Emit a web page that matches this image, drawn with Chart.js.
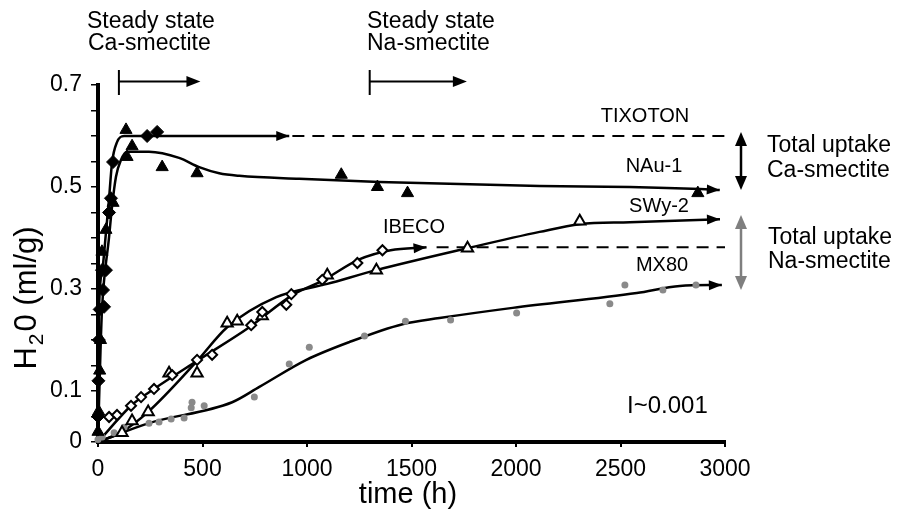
<!DOCTYPE html>
<html><head><meta charset="utf-8">
<script src="https://cdn.jsdelivr.net/npm/chart.js@4/dist/chart.umd.min.js"></script>
<style>html,body{margin:0;padding:0;background:#fff;}canvas{display:block;}</style>
</head><body>
<canvas id="c" width="902" height="510"></canvas>
<script>
// ---------------- data ----------------
const X_TICK_LABELS = ['0','500','1000','1500','2000','2500','3000'];
const Y_TICK_LABELS = ['0','0.1','0.3','0.5','0.7'];

// TIXOTON (filled diamonds)
const TIXOTON_T = [0, 2, 4, 8, 19, 24, 29, 38, 53, 62, 72, 235, 283];
const TIXOTON_Y = [0.05, 0.12, 0.2, 0.26, 0.337, 0.298, 0.265, 0.337, 0.45, 0.478, 0.549, 0.6, 0.608];
const TIXOTON_FIT_T = [0, 2, 5, 20, 38, 53, 67, 91, 125, 200, 915];
const TIXOTON_FIT_Y = [0, 0.12, 0.26, 0.335, 0.41, 0.478, 0.547, 0.588, 0.6, 0.6, 0.6];
const TIXOTON_STEADY_T = [930, 3000];
const TIXOTON_STEADY_Y = [0.6, 0.6];

// NAu-1 (filled triangles)
const NAU1_T = [0, 3, 8, 12, 19, 38, 72, 134, 139, 163, 307, 474, 1164, 1337, 1481, 2870];
const NAU1_Y = [0.02, 0.06, 0.14, 0.2, 0.373, 0.416, 0.469, 0.612, 0.559, 0.58, 0.539, 0.527, 0.524, 0.5, 0.488, 0.488];
const NAU1_FIT_T = [0, 5, 12, 19, 53, 67, 86, 110, 139, 244, 388, 484, 580, 676, 963, 1347, 2113, 2545, 2880, 2975];
const NAU1_FIT_Y = [0, 0.08, 0.18, 0.259, 0.402, 0.461, 0.52, 0.553, 0.569, 0.569, 0.557, 0.539, 0.527, 0.522, 0.516, 0.51, 0.502, 0.5, 0.496, 0.494];

// IBECO (open diamonds)
const IBECO_T = [53, 91, 158, 206, 268, 355, 474, 546, 733, 786, 901, 925, 1073, 1241, 1361];
const IBECO_Y = [0.049, 0.053, 0.071, 0.088, 0.104, 0.131, 0.161, 0.171, 0.229, 0.255, 0.269, 0.29, 0.318, 0.351, 0.376];
const IBECO_FIT_T = [0, 163, 268, 474, 724, 930, 1073, 1250, 1400, 1572];
const IBECO_FIT_Y = [0, 0.073, 0.104, 0.159, 0.225, 0.288, 0.316, 0.358, 0.376, 0.382];
const IBECO_STEADY_T = [1620, 3000];
const IBECO_STEADY_Y = [0.382, 0.382];

// SWy-2 (open triangles)
const SWY2_T = [115, 163, 240, 340, 474, 618, 666, 786, 1097, 1332, 1768, 2305];
const SWY2_Y = [0.018, 0.041, 0.059, 0.135, 0.135, 0.233, 0.237, 0.247, 0.327, 0.337, 0.38, 0.433];
const SWY2_FIT_T = [0, 115, 240, 470, 618, 853, 1097, 1332, 1768, 2113, 2305, 2545, 2976];
const SWY2_FIT_Y = [0, 0.02, 0.059, 0.157, 0.225, 0.284, 0.31, 0.337, 0.38, 0.412, 0.427, 0.431, 0.437];

// MX80 (grey dots)
const MX80_T = [0, 20, 77, 125, 244, 292, 350, 412, 446, 450, 508, 748, 915, 1011, 1275, 1471, 1687, 2003, 2449, 2521, 2703, 2861];
const MX80_Y = [0.005, 0.01, 0.018, 0.029, 0.037, 0.039, 0.045, 0.047, 0.067, 0.078, 0.071, 0.088, 0.153, 0.186, 0.208, 0.237, 0.239, 0.253, 0.271, 0.308, 0.298, 0.308];
const MX80_FIT_T = [0, 244, 642, 772, 997, 1203, 1457, 1634, 1984, 2578, 2784, 2985];
const MX80_FIT_Y = [0, 0.037, 0.078, 0.108, 0.161, 0.196, 0.231, 0.243, 0.263, 0.292, 0.306, 0.308];

// steady-state onset arrows (time, h)
const STEADY_CA_T = [100, 490];
const STEADY_NA_T = [1300, 1765];

// ---------------- helpers ----------------
const FONT = '"Liberation Sans", Arial, Helvetica, sans-serif';
const pts = (t, y) => t.map((v, i) => ({x: v, y: y[i]}));

function fitLine(t, y, extra) {
  return Object.assign({
    data: pts(t, y), showLine: true, borderColor: '#000', borderWidth: 2.5,
    pointRadius: 0, fill: false, tension: 0.4, cubicInterpolationMode: 'monotone',
    clip: false, order: 2
  }, extra || {});
}
function marks(t, y, style, radius, bg, border, bw) {
  return {
    data: pts(t, y), showLine: false, pointStyle: style, pointRadius: radius,
    backgroundColor: bg, borderColor: border, borderWidth: bw, clip: false, order: 1
  };
}
function head(ctx, x0, y0, x1, y1, len, half, color) {
  const a = Math.atan2(y1 - y0, x1 - x0);
  const bx = x1 - len * Math.cos(a), by = y1 - len * Math.sin(a);
  ctx.save();
  ctx.fillStyle = color;
  ctx.beginPath();
  ctx.moveTo(x1, y1);
  ctx.lineTo(bx + half * Math.sin(a), by - half * Math.cos(a));
  ctx.lineTo(bx - half * Math.sin(a), by + half * Math.cos(a));
  ctx.closePath();
  ctx.fill();
  ctx.restore();
}

const annot = {
  id: 'annot',
  afterDatasetsDraw(chart) {
    const ctx = chart.ctx;
    chart.data.datasets.forEach((ds, i) => {
      if (!ds.arrow) return;
      const d = chart.getDatasetMeta(i).data, n = d.length;
      head(ctx, d[n - 2].x, d[n - 2].y, d[n - 1].x, d[n - 1].y, 13, 5, '#000');
    });
  },
  afterDraw(chart) {
    const ctx = chart.ctx, xs = chart.scales.x;
    ctx.save();
    ctx.fillStyle = '#000';
    ctx.strokeStyle = '#000';
    ctx.textBaseline = 'alphabetic';

    // steady-state text + arrows
    ctx.font = '23px ' + FONT;
    ctx.textAlign = 'left';
    ctx.fillText('Steady state', 87, 28);
    ctx.fillText('Ca-smectite', 88, 50);
    ctx.fillText('Steady state', 367, 28);
    ctx.fillText('Na-smectite', 367, 50);
    [STEADY_CA_T, STEADY_NA_T].forEach(tt => {
      const a = xs.getPixelForValue(tt[0]), b = xs.getPixelForValue(tt[1]);
      ctx.lineWidth = 2;
      ctx.beginPath(); ctx.moveTo(a, 70); ctx.lineTo(a, 95); ctx.stroke();
      ctx.beginPath(); ctx.moveTo(a, 81.5); ctx.lineTo(b - 8, 81.5); ctx.stroke();
      head(ctx, a, 81.5, b, 81.5, 14, 5.5, '#000');
    });

    // series labels
    ctx.font = '20px ' + FONT;
    ctx.textAlign = 'center';
    ctx.fillText('TIXOTON', 645, 122);
    ctx.fillText('NAu-1', 654, 172);
    ctx.fillText('SWy-2', 659, 212);
    ctx.fillText('MX80', 662, 271);
    ctx.fillText('IBECO', 414, 233);

    ctx.font = '24px ' + FONT;
    ctx.textAlign = 'left';
    ctx.fillText('I~0.001', 627, 413);

    // total uptake
    ctx.font = '23px ' + FONT;
    ctx.fillText('Total uptake', 767, 152);
    ctx.fillText('Ca-smectite', 767, 177);
    ctx.fillText('Total uptake', 768, 244);
    ctx.fillText('Na-smectite', 768, 268);

    // double arrows
    const dbl = (x, y0, y1, color) => {
      ctx.strokeStyle = color; ctx.lineWidth = 2.5;
      ctx.beginPath(); ctx.moveTo(x, y0 + 10); ctx.lineTo(x, y1 - 10); ctx.stroke();
      head(ctx, x, y1, x, y0, 14, 6, color);
      head(ctx, x, y0, x, y1, 14, 6, color);
    };
    dbl(741, 132, 190, '#000');
    dbl(741, 215, 290, '#7f7f7f');

    // axis titles
    ctx.fillStyle = '#000';
    ctx.font = '29px ' + FONT;
    ctx.textAlign = 'center';
    ctx.fillText('time (h)', 408, 503);

    ctx.translate(36, 298);
    ctx.rotate(-Math.PI / 2);
    ctx.textAlign = 'left';
    const big = '31px ' + FONT, small = '21px ' + FONT;
    ctx.font = big; const wH = ctx.measureText('H').width;
    ctx.font = small; const w2 = ctx.measureText('2').width;
    ctx.font = big; const wR = ctx.measureText('0 (ml/g)').width;
    const W = wH + w2 + wR + 4;
    let u = -W / 2;
    ctx.font = big; ctx.fillText('H', u, 0); u += wH + 2;
    ctx.font = small; ctx.fillText('2', u, 7); u += w2 + 2;
    ctx.font = big; ctx.fillText('0 (ml/g)', u, 0);
    ctx.restore();
  }
};

const yLabelSet = new Set(Y_TICK_LABELS);

new Chart(document.getElementById('c'), {
  type: 'scatter',
  data: {
    datasets: [
      marks(TIXOTON_T, TIXOTON_Y, 'rectRot', 6.5, '#000', '#000', 1),
      marks(NAU1_T, NAU1_Y, 'triangle', 7, '#000', '#000', 1),
      marks(IBECO_T, IBECO_Y, 'rectRot', 5, '#fff', '#000', 2),
      marks(SWY2_T, SWY2_Y, 'triangle', 6.5, '#fff', '#000', 2),
      marks(MX80_T, MX80_Y, 'circle', 3.5, '#8a8a8a', '#8a8a8a', 0),
      fitLine(TIXOTON_FIT_T, TIXOTON_FIT_Y, {arrow: true}),
      fitLine(NAU1_FIT_T, NAU1_FIT_Y, {arrow: true}),
      fitLine(IBECO_FIT_T, IBECO_FIT_Y, {arrow: true}),
      fitLine(SWY2_FIT_T, SWY2_FIT_Y, {arrow: true}),
      fitLine(MX80_FIT_T, MX80_FIT_Y, {arrow: true}),
      fitLine(TIXOTON_STEADY_T, TIXOTON_STEADY_Y, {borderDash: [12, 8], borderWidth: 2, tension: 0}),
      fitLine(IBECO_STEADY_T, IBECO_STEADY_Y, {borderDash: [12, 8], borderWidth: 2, tension: 0})
    ]
  },
  options: {
    responsive: false,
    devicePixelRatio: 1,
    animation: false,
    events: [],
    layout: {padding: {left: 0, right: 177, top: 85, bottom: 28}},
    plugins: {legend: {display: false}, tooltip: {enabled: false}, title: {display: false}},
    scales: {
      x: {
        type: 'linear', min: 0, max: 3000,
        afterFit: s => { s.height = 40; },
        afterBuildTicks: s => { s.ticks = X_TICK_LABELS.map(v => ({value: Number(v)})); },
        ticks: {
          color: '#000', font: {family: FONT, size: 23}, padding: 9, maxRotation: 0, autoSkip: false,
          callback: v => X_TICK_LABELS.find(l => Number(l) === v) ?? ''
        },
        grid: {drawOnChartArea: false, drawTicks: true, tickLength: 5, color: '#000', lineWidth: 2},
        border: {display: true, color: '#000', width: 4}
      },
      y: {
        type: 'linear', min: 0, max: 0.7,
        afterFit: s => { s.width = 98; },
        ticks: {
          stepSize: 0.05, autoSkip: false, color: '#000', font: {family: FONT, size: 23}, padding: 9,
          callback: v => { const s = String(Math.round(v * 100) / 100); return yLabelSet.has(s) ? s : ''; }
        },
        grid: {drawOnChartArea: false, drawTicks: true, tickLength: 7, color: '#000', lineWidth: 1.5},
        border: {display: true, color: '#000', width: 4}
      }
    }
  },
  plugins: [annot]
});
</script>
</body></html>
